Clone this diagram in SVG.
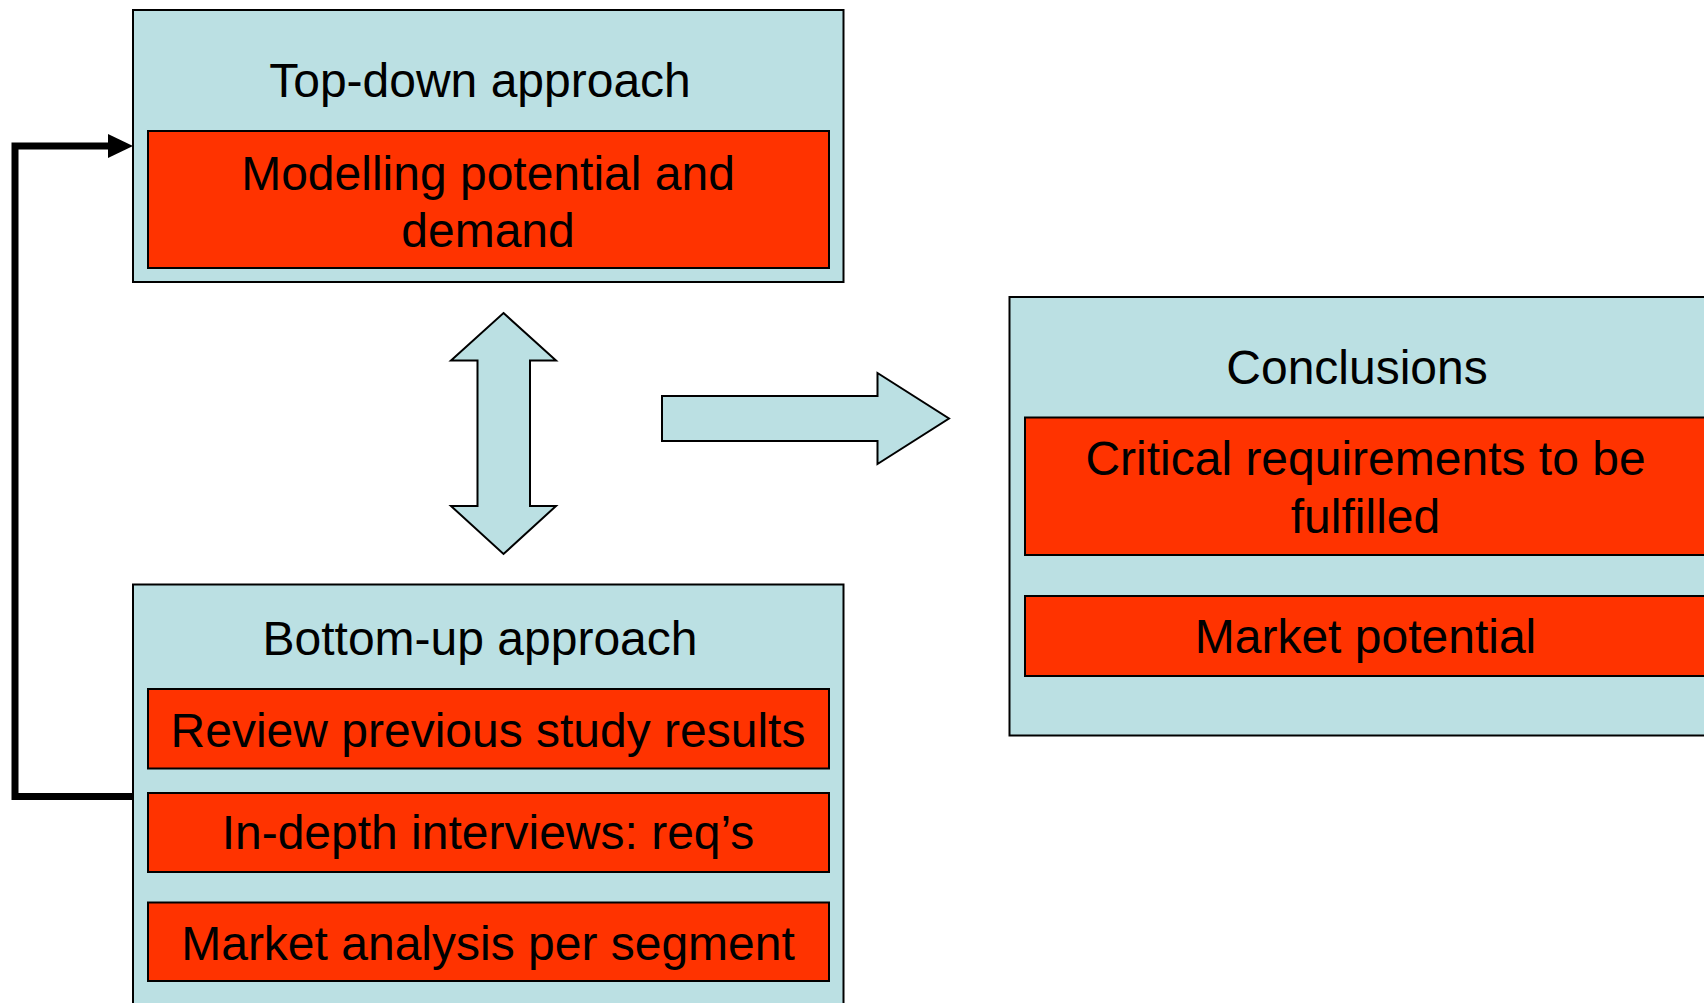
<svg xmlns="http://www.w3.org/2000/svg" width="1704" height="1003" viewBox="0 0 1704 1003">
  <style>
    .panel { fill: #BBE0E3; stroke: #000; stroke-width: 2; }
    .item { fill: #FF3300; stroke: #000; stroke-width: 2; }
    .shape { fill: #BBE0E3; stroke: #000; stroke-width: 2; stroke-linejoin: miter; }
    text { font-family: "Liberation Sans", Arial, sans-serif; font-size: 48px; fill: #000; text-anchor: middle; }
    .conn { fill: none; stroke: #000; stroke-width: 7; stroke-linejoin: miter; }
  </style>
  <defs>
    <marker id="ah" viewBox="0 0 10 10" refX="10" refY="5" markerWidth="3.4" markerHeight="3.4" markerUnits="strokeWidth" orient="auto">
      <path d="M0,0 L10,5 L0,10 Z" fill="#000"/>
    </marker>
  </defs>
  <rect width="1704" height="1003" fill="#fff"/>

  <g id="connectors">
    <path class="conn" d="M133,796.5 H15 V146 H109" />
    <path d="M108,134 L133,146 L108,158 Z" fill="#000"/>
  </g>

  <g id="top-down">
    <rect class="panel" x="133" y="10" width="710.5" height="272"/>
    <text x="480" y="97">Top-down approach</text>
    <rect class="item" x="148" y="131" width="681" height="137"/>
    <text x="488" y="189.5">Modelling potential and</text>
    <text x="488" y="246.5">demand</text>
  </g>

  <g id="double-arrow">
    <path class="shape" d="M503.5,313 L556,360.5 L530,360.5 L530,506 L556,506 L503.5,554 L451,506 L477.5,506 L477.5,360.5 L451,360.5 Z"/>
  </g>

  <g id="right-arrow">
    <path class="shape" d="M662,396 L877.5,396 L877.5,373 L949,418.5 L877.5,464 L877.5,441 L662,441 Z"/>
  </g>

  <g id="bottom-up">
    <rect class="panel" x="133" y="584.5" width="710.5" height="430"/>
    <text x="480" y="655">Bottom-up approach</text>
    <rect class="item" x="148" y="689" width="681" height="79.5"/>
    <text x="488" y="747">Review previous study results</text>
    <rect class="item" x="148" y="793" width="681" height="79"/>
    <text x="488" y="848.5">In-depth interviews: req’s</text>
    <rect class="item" x="148" y="902.5" width="681" height="78.5"/>
    <text x="488" y="960">Market analysis per segment</text>
  </g>

  <g id="conclusions">
    <rect class="panel" x="1009.5" y="297" width="720" height="438.5"/>
    <text x="1357" y="383.5">Conclusions</text>
    <rect class="item" x="1025" y="417.5" width="700" height="137.5"/>
    <text x="1365.5" y="475">Critical requirements to be</text>
    <text x="1365.5" y="533">fulfilled</text>
    <rect class="item" x="1025" y="596" width="700" height="80"/>
    <text x="1365.5" y="653">Market potential</text>
  </g>
</svg>
